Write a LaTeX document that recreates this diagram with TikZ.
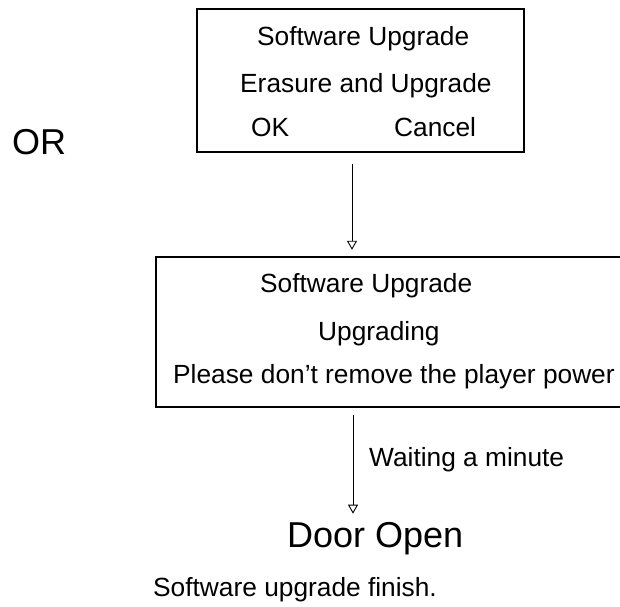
\documentclass[tikz,border=0pt]{standalone}
\usepackage{fontspec}
\setmainfont{Liberation Sans}
\usetikzlibrary{arrows.meta}
\begin{document}
\begin{tikzpicture}[x=1pt,y=-1pt,
  txt/.style={anchor=base west,inner sep=0pt,font=\fontsize{26.3}{30}\selectfont},
  bigtxt/.style={anchor=base west,inner sep=0pt,font=\fontsize{36}{40}\selectfont},
  boxline/.style={line width=1.7pt},
  flow/.style={line width=0.9pt,-{Triangle[open,length=9pt,width=10pt,line width=0.9pt]}}]
\useasboundingbox (0,0) rectangle (620,606);
% left label
\node[bigtxt] (or) at (12,154) {OR};
% box 1
\node[draw,boxline,inner sep=0pt,minimum width=327pt,minimum height=143pt] (box1) at (360.5,80.5) {};
\node[txt] (t1a) at (257,45) {Software Upgrade};
\node[txt] (t1b) at (240,92) {Erasure and Upgrade};
\node[txt] (t1c) at (251,136) {OK};
\node[txt] (t1d) at (394,136) {Cancel};
% box 2 (right side runs past the page edge)
\node[inner sep=0pt,minimum width=464pt,minimum height=150pt] (box2) at (388,332) {};
\draw[boxline] (box2.north east) -- (box2.north west) -- (box2.south west) -- (box2.south east);
\node[txt] (t2a) at (260,292) {Software Upgrade};
\node[txt] (t2b) at (318,340) {Upgrading};
\node[txt] (t2c) at (173,383) {Please don’t remove the player power};
% result texts
\node[txt] (wait) at (369,466) {Waiting a minute};
\node[bigtxt] (door) at (287,547) {Door Open};
\node[txt] (fin) at (153,596) {Software upgrade finish.};
% connectors
\coordinate (a1) at (352,0);
\coordinate (a2) at (353,0);
\draw[flow,shorten <=11pt,shorten >=7pt] (box1.south -| a1) -- (box2.north -| a1);
\draw[flow,shorten <=8pt,shorten >=8pt] (box2.south -| a2) -- (door.north -| a2);
\end{tikzpicture}
\end{document}
